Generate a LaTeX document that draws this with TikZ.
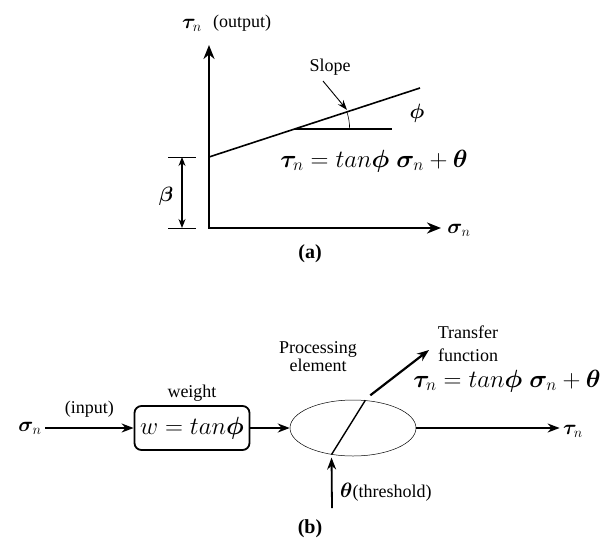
\documentclass[tikz,border=0pt]{standalone}
\usepackage{fontspec}
\setmainfont{Liberation Serif}
\usepackage{amsmath,bm}
\usetikzlibrary{arrows.meta,shapes.geometric,calc,positioning}
\begin{document}
\begin{tikzpicture}[x=1pt,y=-1pt,every node/.style={font=\fontsize{18}{18}\selectfont},
  axis/.style={line width=2.4pt,{Stealth[length=14pt,width=11pt]}-{Stealth[length=14pt,width=11pt]}},
  arr/.style={line width=1.8pt,-{Stealth[length=12pt,width=9pt]}},
  bigmath/.style={font=\fontsize{23}{26}\selectfont},
  greek/.style={font=\fontsize{22}{24}\selectfont},
  caption/.style={font=\fontsize{20}{22}\selectfont\bfseries},
  wbox/.style={draw,line width=1.8pt,rounded corners=7pt,minimum width=115,minimum height=44,inner sep=1pt,font=\fontsize{24}{26}\selectfont}]
  \useasboundingbox (0,0) rectangle (616,544);
  % (a) linear relation
  \coordinate (O) at (209,228);
  \draw[axis] (209,45) -- (O) -- (441,228);
  \node[greek] (tauy) at (192,25) {$\bm{\tau}_n$};
  \node (outlab) at (242,23) {(output)};
  \node[greek] (sigx) at (459,230) {$\bm{\sigma}_n$};
  \coordinate (b0) at (209,157);
  \coordinate (b1) at (420,88);
  \draw[line width=1.6pt] (b0) -- (b1);
  \coordinate (P) at ($(b0)!{28/69}!(b1)$);
  \draw[line width=1.4pt] (P) -- ++(97,0);
  \draw[line width=0.6pt] (P) ++(55,0) arc[start angle=0,end angle=-18.1,radius=55];
  \node[greek] (phi) at (417,113) {$\bm{\phi}$};
  \node (slope) at (330,67) {Slope};
  \coordinate (slopept) at ($(b0)!0.66!(b1)$);
  \draw[line width=0.9pt,-{Stealth[length=10pt,width=7pt]},shorten >=2pt] (323,81) -- (slopept);
  \node[bigmath] (eqa) at (374,161) {$\bm{\tau}_n = tan\bm{\phi}\;\bm{\sigma}_n + \bm{\theta}$};
  % beta dimension
  \draw[line width=0.8pt] (168,157) -- (196,157);
  \draw[line width=0.8pt] (168,228) -- (196,228);
  \coordinate (bt) at (182,157);
  \coordinate (bb) at (182,228);
  \draw[line width=1.2pt,{Stealth[length=9pt,width=7pt]}-{Stealth[length=9pt,width=7pt]}] (bt) -- (bb);
  \node[greek] (beta) at (166,196) {$\bm{\beta}$};
  \node[caption] (capa) at (310,254) {(a)};
  % (b) processing element
  \node[greek] (sin) at (30,428) {$\bm{\sigma}_n$};
  \node[wbox] (w) at (192,428) {$w = tan\bm{\phi}$};
  \node[draw,ellipse,line width=0.5pt,minimum width=126,minimum height=56,inner sep=0pt] (pe) at (353,428) {};
  \draw[arr] (sin) -- (w) node[midway,above=6pt] (inlab) {(input)};
  \node[above=0pt of w] (wlab) {weight};
  \draw[arr] (w) -- (pe);
  \draw[line width=1.4pt] (pe.231) -- (pe.66);
  \node[align=center,font=\fontsize{18}{18}\selectfont] (pelab) at (318,357) {Processing\\element};
  \node[align=center,font=\fontsize{18}{23}\selectfont] (tflab) at (468,344) {Transfer\\function};
  \coordinate (tfend) at (429,350);
  \draw[arr,line width=2.2pt] ([shift={(5,-5)}]pe.66) -- (tfend);
  \node[bigmath] (eqb) at (507,381) {$\bm{\tau}_n = tan\bm{\phi}\;\bm{\sigma}_n + \bm{\theta}$};
  \node[greek] (tout) at (573,431) {$\bm{\tau}_n$};
  \draw[arr] (pe.east) -- (pe.east -| tout.west);
  \coordinate (thin) at (332,508);
  \draw[arr,shorten >=3pt] (thin) -- (pe.231);
  \node[right,inner sep=0pt] (thr) at (340,492) {\fontsize{21}{22}\selectfont$\bm{\theta}$\fontsize{18}{18}\selectfont(threshold)};
  \node[caption] (capb) at (310,529) {(b)};
\end{tikzpicture}
\end{document}
